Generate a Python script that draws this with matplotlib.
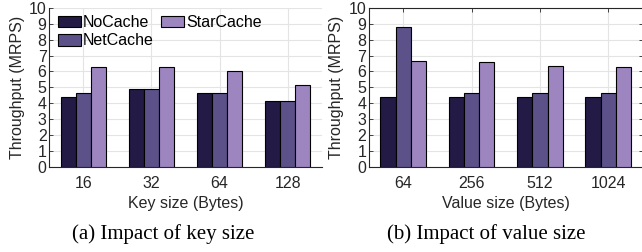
import matplotlib
matplotlib.use("Agg")
import matplotlib.pyplot as plt
import numpy as np

series = ["NoCache", "NetCache", "StarCache"]
colors = ["#231a45", "#5c5189", "#9d85c0"]

key_sizes = ["16", "32", "64", "128"]
key_nocache = [4.42, 4.92, 4.65, 4.17]
key_netcache = [4.65, 4.92, 4.65, 4.17]
key_starcache = [6.28, 6.28, 6.03, 5.13]

value_sizes = ["64", "256", "512", "1024"]
val_nocache = [4.42, 4.42, 4.38, 4.42]
val_netcache = [8.83, 4.65, 4.65, 4.65]
val_starcache = [6.66, 6.60, 6.36, 6.27]

plt.rcParams['font.family'] = ['Liberation Sans', 'DejaVu Sans']
txt = "#262626"
FS = 11.5

fig = plt.figure(figsize=(6.42, 2.52), dpi=100)
ax1 = fig.add_axes([49.3/642, 85.3/252, 272.4/642, 158.7/252])
ax2 = fig.add_axes([369.0/642, 85.3/252, 273.5/642, 158.7/252])

def draw(ax, cats, data, xlabel, legend=False, right_box=True):
    x = np.arange(1, len(cats) + 1)
    w = 0.223
    for i, (vals, c, name) in enumerate(zip(data, colors, series)):
        ax.bar(x + (i - 1) * w, vals, w, color=c, edgecolor="black",
               linewidth=0.8, label=name, zorder=3)
    ax.set_xlim(0.5, len(cats) + 0.5)
    ax.set_ylim(0, 10)
    ax.set_yticks(range(0, 11))
    ax.set_xticks(x)
    ax.set_xticklabels(cats)
    ax.grid(True, color="#e4e4e4", linewidth=0.8, zorder=0)
    ax.set_axisbelow(True)
    ax.tick_params(direction="in", length=3, width=0.6, labelsize=FS,
                   colors=txt, pad=2)
    ax.tick_params(axis="x", pad=6.5)
    ax.set_xlabel(xlabel, fontsize=FS, color=txt, labelpad=3.5)
    ax.set_ylabel("Throughput (MRPS)", fontsize=FS, color=txt, labelpad=3)
    for s in ["left", "bottom"]:
        ax.spines[s].set_color(txt)
        ax.spines[s].set_linewidth(0.8)
    if right_box:
        ax.spines["top"].set_color(txt)
        ax.spines["top"].set_linewidth(0.8)
        ax.spines["right"].set_color(txt)
        ax.spines["right"].set_linewidth(0.8)
        ax.tick_params(top=True, right=True)
    else:
        ax.spines["top"].set_visible(False)
        ax.spines["right"].set_visible(False)
    if legend:
        ax.legend(loc="upper left", bbox_to_anchor=(0.0, 1.01), ncol=2,
                  frameon=False, fontsize=FS, handlelength=1.45,
                  handleheight=0.75, handletextpad=0.12, columnspacing=0.45,
                  labelspacing=0.2, borderpad=0.35, borderaxespad=0.2)

draw(ax1, key_sizes, [key_nocache, key_netcache, key_starcache],
     "Key size (Bytes)", legend=True, right_box=False)
draw(ax2, value_sizes, [val_nocache, val_netcache, val_starcache],
     "Value size (Bytes)")

fig.text(163/642, 18/252, "(a) Impact of key size", ha="center", va="center",
         fontsize=15, family=['Liberation Serif', 'DejaVu Serif'])
fig.text(486/642, 18/252, "(b) Impact of value size", ha="center", va="center",
         fontsize=15, family=['Liberation Serif', 'DejaVu Serif'])

fig.savefig("out.png", dpi=100)
